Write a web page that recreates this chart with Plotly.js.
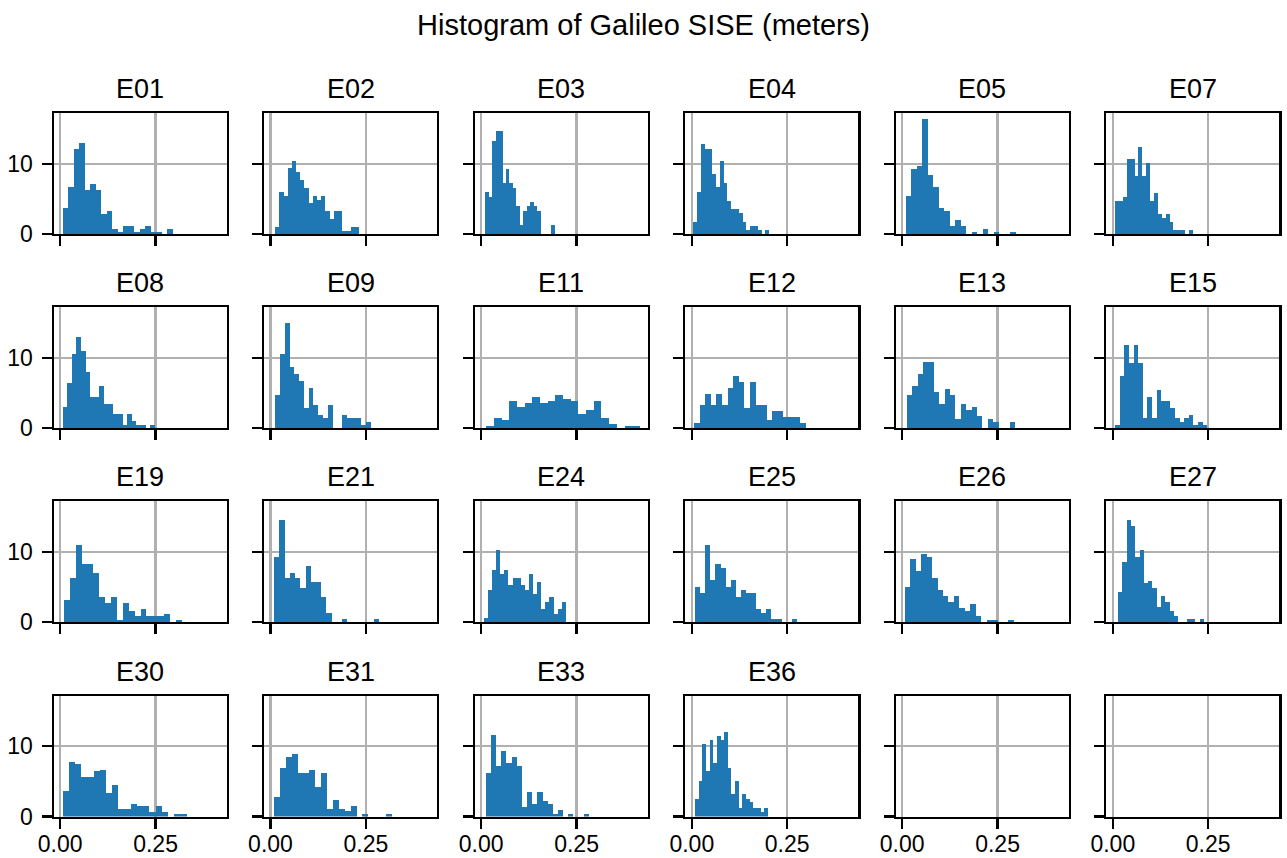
<!DOCTYPE html>
<html>
<head>
<meta charset="utf-8">
<script src="https://cdn.plot.ly/plotly-3.0.1.min.js"></script>
<style>html,body{margin:0;padding:0;background:#fff;}#chart{width:1287px;height:858px;}</style>
</head>
<body>
<div id="chart"></div>
<script>
// ---- data ----
const figTitle = "Histogram of Galileo SISE (meters)";
const satNames = ["E01","E02","E03","E04","E05","E07","E08","E09","E11","E12","E13","E15",
                  "E19","E21","E24","E25","E26","E27","E30","E31","E33","E36"];
// histogram range (min, max of each satellite's data), 20 equal bins each
const binMin = [0.0061,0.0122,0.0105,0.0035,0.0096,0.0061,0.0061,0.0122,0.0131,0.0061,0.0122,0.0061,
                0.0096,0.0096,0.0070,0.0087,0.0070,0.0139,0.0061,0.0096,0.0122,0.0087];
const binMax = [0.2946,0.2317,0.1923,0.2028,0.2972,0.2099,0.2483,0.2631,0.4161,0.2990,0.2955,0.2474,
                0.3190,0.2840,0.2220,0.2753,0.2928,0.2387,0.3313,0.3180,0.2823,0.1993];
const cE01 = [3.7,6.7,12.1,12.9,6.3,7.1,6.3,2.8,3.3,0.7,0.3,1.1,1.1,0.3,0.7,1.1,0.3,0.3,0,0.7];
const cE02 = [1.0,6.0,5.4,9.4,10.4,8.8,7.7,6.5,4.4,5.4,4.8,5.4,3.3,2.1,3.3,3.3,0.4,0.4,1.0,1.0];
const cE03 = [6.0,5.3,13.2,14.6,14.6,7.3,9.2,7.3,6.5,4.0,1.3,3.3,4.0,4.5,4.0,3.3,0,0,0,1.3];
const cE04 = [1.7,6.0,12.8,12.1,12.1,8.5,6.7,10.4,7.3,4.7,3.6,3.6,3.0,1.7,0.6,1.1,1.1,0.6,0,0.6];
const cE05 = [5.4,9.2,9.7,16.35,8.4,6.7,3.7,3.3,1.1,2.0,1.1,0,0.3,0,0.7,0,0.3,0,0,0.3];
const cE07 = [4.7,4.7,5.3,10.7,10.7,8.2,12.4,8.2,10.1,4.7,5.8,2.8,2.3,2.8,1.7,0.6,0.6,0.6,0,0.6];
const cE08 = [3.0,6.4,10.5,12.9,10.9,8.0,4.4,4.4,6.0,3.4,3.4,2.0,2.0,0.4,2.0,1.0,0.4,0.4,0,0.4];
const cE09 = [4.7,10.5,14.9,8.7,7.7,6.7,2.8,5.7,3.3,1.8,1.4,3.3,0,0,1.8,1.4,1.4,1.4,0.4,0.9];
const cE11 = [0.3,1.4,1.1,3.8,3.0,3.6,4.4,3.6,3.8,4.7,4.1,3.8,2.0,2.6,3.8,1.4,0.6,0,0.3,0.3];
const cE12 = [0.7,3.3,4.8,3.3,4.8,3.3,5.7,7.4,6.5,2.8,6.5,3.3,3.3,1.1,2.4,2.4,1.6,1.6,1.6,0.7];
const cE13 = [4.7,6.0,7.7,9.4,9.4,5.1,3.4,5.5,4.7,1.3,3.4,2.6,3.0,1.7,0,1.3,0.9,0,0,0.9];
const cE15 = [0.4,7.4,11.8,9.2,11.8,9.2,1.4,4.4,1.4,5.4,3.8,3.8,2.8,1.4,0.9,1.4,1.8,0.4,0.9,0.4];
const cE19 = [3.2,6.3,11.0,8.2,8.2,7.0,3.5,2.7,3.5,0.3,2.7,1.6,0.8,1.9,0.8,0.8,0.8,1.2,0,0.3];
const cE21 = [9.3,14.5,6.2,7.0,6.2,4.9,8.0,5.7,5.7,3.5,1.3,0,0,0.5,0,0,0,0,0,0.5];
const cE24 = [0.6,4.6,7.4,10.3,6.9,7.4,5.3,6.3,6.3,5.3,4.6,6.9,4.0,5.7,1.8,2.9,3.5,1.2,1.8,2.9];
const cE25 = [5.0,4.2,11.0,6.0,8.3,7.7,5.0,6.0,3.6,4.6,4.2,4.2,1.8,1.3,1.8,0.5,0.5,0,0,0.5];
const cE26 = [5.0,8.9,7.2,9.7,9.3,6.3,4.6,3.7,2.9,3.7,2.0,1.6,2.5,0.8,0,0.3,0.3,0,0,0.3];
const cE27 = [4.3,8.6,14.5,13.6,9.2,10.3,5.5,5.9,4.9,2.2,3.7,2.9,1.6,0.9,0,0,0.5,0.5,0,0.5];
const cE30 = [3.6,7.8,7.5,5.6,5.6,6.4,6.6,3.4,4.5,1.1,1.1,1.8,1.5,1.5,0.7,1.5,0.7,0,0.4,0.4];
const cE31 = [2.7,6.9,8.5,8.9,6.2,6.2,6.6,4.2,6.2,1.1,2.4,1.1,0.8,1.5,0,0.4,0,0,0,0.4];
const cE33 = [6.2,11.6,7.2,9.3,7.6,8.5,7.2,1.4,3.5,1.8,3.5,2.2,1.8,0.4,0.9,0,0.4,0,0,0.4];
const cE36 = [2.5,5.1,10.3,6.4,10.9,7.6,11.4,10.9,12.0,6.9,3.2,5.1,1.2,3.2,2.5,2.0,1.2,1.2,0.7,1.2];
const counts = [cE01,cE02,cE03,cE04,cE05,cE07,cE08,cE09,cE11,cE12,cE13,cE15,
                cE19,cE21,cE24,cE25,cE26,cE27,cE30,cE31,cE33,cE36];
const xTickVals = [0, 0.25];
const xTickText = ["0.00", "0.25"];
const yTickVals = [0, 10];
const yTickText = ["0", "10"];

// ---- layout geometry ----
const W = 1287, H = 858;
const colLeft = [53.7, 264.0, 474.7, 685.3, 895.7, 1106.3];
const rowTop = [113.3, 307.3, 501.3, 695.7];
const PW = 173, PH = 120.8;
const xRange = [-0.0170, 0.4365];
const yRange = [0, 17.16];
const FONT = "Liberation Sans, Arial, sans-serif";
const barColor = "#1f77b4";

const traces = [];
const layout = {
  width: W, height: H,
  margin: {l: 0, r: 0, t: 0, b: 0, pad: 0},
  paper_bgcolor: "#ffffff", plot_bgcolor: "#ffffff",
  showlegend: false,
  bargap: 0,
  font: {family: FONT, color: "#000000"},
  title: {text: figTitle, x: 0.5, xanchor: "center", xref: "paper",
          y: 1 - 25 / H, yanchor: "middle", yref: "paper",
          font: {size: 29, family: FONT, color: "#000000"}},
  annotations: []
};

const nPanels = 24;
for (let k = 0; k < nPanels; k++) {
  const r = Math.floor(k / 6), c = k % 6;
  const sfx = k === 0 ? "" : String(k + 1);
  const axStyle = {
    showline: true, linecolor: "#000000", linewidth: 2.2, mirror: true,
    ticks: "outside", ticklen: 10, tickwidth: 2.2, tickcolor: "#000000",
    showgrid: true, gridcolor: "#b0b0b0", gridwidth: 2.2,
    zeroline: false, fixedrange: true,
    tickfont: {size: 23, family: FONT, color: "#000000"}
  };
  layout["xaxis" + sfx] = Object.assign({}, axStyle, {
    domain: [colLeft[c] / W, (colLeft[c] + PW) / W],
    anchor: "y" + sfx, range: xRange, autorange: false,
    tickmode: "array", tickvals: xTickVals, ticktext: xTickText,
    showticklabels: r === 3, ticklabelstandoff: -4
  });
  layout["yaxis" + sfx] = Object.assign({}, axStyle, {
    domain: [1 - (rowTop[r] + PH) / H, 1 - rowTop[r] / H],
    anchor: "x" + sfx, range: yRange, autorange: false,
    tickmode: "array", tickvals: yTickVals, ticktext: yTickText,
    showticklabels: c === 0, ticklabelstandoff: 4
  });
  if (k < satNames.length) {
    const lo = binMin[k], hi = binMax[k], vals = counts[k];
    const w = (hi - lo) / vals.length;
    const xs = vals.map((_, i) => lo + (i + 0.5) * w);
    traces.push({
      type: "bar", x: xs, y: vals, width: vals.map(() => w),
      marker: {color: barColor, line: {width: 0}},
      xaxis: "x" + sfx, yaxis: "y" + sfx, hoverinfo: "skip"
    });
    layout.annotations.push({
      text: satNames[k], showarrow: false,
      xref: "paper", yref: "paper",
      x: (colLeft[c] + PW / 2) / W, xanchor: "center",
      y: 1 - (rowTop[r] - 24) / H, yanchor: "middle",
      font: {size: 27, family: FONT, color: "#000000"}
    });
  } else {
    // empty axes (no satellite) still drawn, as in the reference
    traces.push({
      type: "scatter", mode: "markers", x: [null], y: [null],
      xaxis: "x" + sfx, yaxis: "y" + sfx, hoverinfo: "skip"
    });
  }
}

Plotly.newPlot("chart", traces, layout, {staticPlot: true, displayModeBar: false});
</script>
</body>
</html>
